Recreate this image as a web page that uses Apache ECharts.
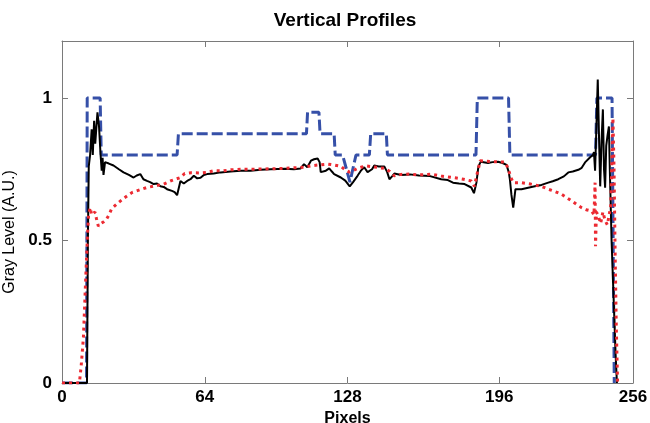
<!DOCTYPE html>
<html>
<head>
<meta charset="utf-8">
<script src="https://cdn.jsdelivr.net/npm/echarts@6/dist/echarts.min.js"></script>
<style>html,body{margin:0;padding:0;background:#fff}#c{width:650px;height:423px}</style>
</head>
<body>
<div id="c"></div>
<script>
const xTicks = [0, 64, 128, 196, 256];
const yTicks = [0, 0.5, 1];

const blueProfile = [[0,0],[11,0],[11.3,1],[17.1,1],[17.6,0.8],[51.6,0.8],[52.2,0.875],[109.6,0.875],[110.1,0.95],[115.2,0.95],[115.7,0.875],[122,0.875],[122.5,0.8],[125.8,0.8],[129.1,0.705],[131.8,0.8],[137.8,0.8],[138.4,0.875],[145.4,0.875],[145.9,0.8],[185.6,0.8],[186.2,1],[200.2,1],[200.8,0.8],[239.2,0.8],[239.8,1],[246.6,1],[247.6,0]];

const blackProfile = [[0,0],[11.2,0],[11.6,0.5],[12,0.76],[12.6,0.8],[13.3,0.89],[13.8,0.8],[14.4,0.92],[14.9,0.84],[15.9,0.95],[16.6,0.9],[17.3,0.8],[17.8,0.745],[18.2,0.79],[18.6,0.73],[19.3,0.775],[21,0.77],[23.1,0.763],[25.5,0.75],[27.6,0.739],[30,0.73],[32.1,0.721],[33.5,0.728],[35.1,0.733],[36.5,0.715],[38.1,0.709],[39.5,0.705],[41.1,0.698],[42.6,0.7],[44.1,0.69],[45.6,0.688],[47.1,0.68],[49.3,0.674],[50.5,0.67],[51.6,0.659],[53.1,0.709],[54.6,0.7],[56.1,0.709],[57.6,0.715],[59.1,0.727],[60.6,0.718],[62.1,0.72],[63.6,0.73],[65.1,0.733],[68,0.735],[71.1,0.739],[75.6,0.742],[80,0.745],[84.6,0.745],[89,0.748],[93.6,0.75],[100,0.752],[104,0.75],[107,0.753],[108.5,0.768],[110,0.757],[111.6,0.78],[113,0.785],[114.6,0.788],[115.5,0.775],[116,0.74],[116.8,0.733],[118.3,0.745],[119.8,0.753],[121,0.742],[122,0.733],[125,0.721],[127,0.71],[129,0.69],[130.5,0.705],[132.5,0.727],[134,0.745],[135.5,0.757],[137,0.74],[137.8,0.733],[139,0.75],[140,0.763],[142,0.76],[144.5,0.76],[145.8,0.74],[146.8,0.715],[148,0.725],[149,0.735],[152,0.73],[156,0.732],[160,0.728],[165,0.726],[170,0.715],[173,0.712],[175.3,0.703],[178,0.7],[180.5,0.698],[183.5,0.686],[184.7,0.666],[185.8,0.703],[186.7,0.76],[187.7,0.776],[191,0.772],[193,0.775],[195.5,0.776],[197.5,0.772],[199.3,0.765],[200.3,0.74],[200.8,0.715],[201.5,0.66],[202.3,0.615],[203.3,0.68],[206,0.68],[209,0.685],[212,0.69],[215,0.695],[218,0.703],[220,0.708],[222.5,0.715],[225,0.725],[227,0.739],[229,0.742],[231.5,0.748],[233,0.755],[234.5,0.774],[236.8,0.792],[238,0.8],[238.5,0.81],[239,0.745],[239.6,0.9],[240.2,1.065],[240.8,0.85],[241.3,0.69],[241.9,0.85],[242.5,0.96],[243,0.75],[243.5,0.685],[244,0.833],[244.6,0.87],[245.2,0.9],[245.6,0.75],[246.4,0.5],[247.3,0.3],[248.2,0.1],[248.8,0]];

const redProfile = [[0,0],[7.8,0],[8.6,0.06],[9.6,0.16],[10.6,0.36],[11.4,0.515],[11.9,0.586],[12.6,0.615],[13.3,0.59],[14,0.585],[14.8,0.6],[15.5,0.575],[16.3,0.55],[17.5,0.56],[18.6,0.565],[20,0.575],[20.8,0.586],[22.3,0.612],[25.3,0.633],[28,0.65],[31.3,0.668],[35,0.678],[38.1,0.686],[42,0.692],[45.6,0.698],[49,0.71],[53.1,0.721],[55,0.735],[58,0.738],[62,0.737],[65.1,0.739],[68,0.745],[72,0.744],[75.6,0.748],[80,0.75],[84.6,0.75],[90,0.751],[95,0.752],[99.5,0.753],[104,0.755],[108.5,0.757],[111.6,0.762],[115,0.765],[119,0.768],[122,0.765],[125,0.76],[127,0.748],[128.8,0.74],[130.5,0.745],[132.5,0.753],[134.5,0.758],[136.3,0.762],[140,0.758],[144.5,0.753],[147,0.742],[149,0.727],[152,0.732],[156,0.733],[160,0.73],[165.6,0.733],[170,0.726],[176,0.72],[180,0.715],[183.5,0.709],[184.9,0.69],[186,0.73],[187.5,0.78],[190,0.778],[195,0.776],[198.6,0.775],[199.6,0.76],[200.3,0.745],[201.3,0.72],[202.3,0.703],[206,0.703],[210,0.698],[215,0.69],[218,0.68],[221,0.672],[224,0.662],[226,0.652],[228.5,0.639],[231,0.625],[233,0.615],[235,0.608],[237.5,0.603],[238.5,0.59],[239,0.703],[239.2,0.48],[239.6,0.6],[240.5,0.585],[241.5,0.56],[242.5,0.6],[243.5,0.57],[244.5,0.555],[245.3,0.562],[246,0.62],[246.6,0.8],[247,0.93],[247.5,0.75],[248,0.45],[248.5,0.2],[249.1,0]];

const FONT = 'Liberation Sans, Arial, Helvetica, sans-serif';
const frameColor = '#7a7a7a';

const chart = echarts.init(document.getElementById('c'), null, {renderer: 'canvas'});
chart.setOption({
  animation: false,
  backgroundColor: '#ffffff',
  title: {
    text: 'Vertical Profiles',
    left: 340, top: 6, textAlign: 'center',
    textStyle: {fontFamily: FONT, fontSize: 19, fontWeight: 'bold', color: '#000'}
  },
  grid: {left: 62, right: 17, top: 41, bottom: 40, containLabel: false, outerBoundsMode: 'none'},
  xAxis: [{
    type: 'value', min: 0, max: 256, position: 'bottom',
    name: 'Pixels', nameLocation: 'middle', nameGap: 21,
    nameTextStyle: {fontFamily: FONT, fontSize: 16, fontWeight: 'bold', color: '#000'},
    axisLine: {show: true, onZero: false, lineStyle: {color: frameColor, width: 1}},
    axisTick: {show: true, inside: true, length: 6, customValues: xTicks, lineStyle: {color: frameColor}},
    axisLabel: {customValues: xTicks, margin: 6, fontFamily: FONT, fontSize: 17, fontWeight: 'bold', color: '#000'},
    splitLine: {show: false}
  }, {
    type: 'value', min: 0, max: 256, position: 'top',
    axisLine: {show: true, onZero: false, lineStyle: {color: frameColor, width: 1}},
    axisTick: {show: true, inside: true, length: 6, customValues: xTicks, lineStyle: {color: frameColor}},
    axisLabel: {show: false},
    splitLine: {show: false}
  }],
  yAxis: [{
    type: 'value', min: 0, max: 1.2, position: 'left',
    name: 'Gray Level (A.U.)', nameLocation: 'middle', nameGap: 37,
    nameTextStyle: {fontFamily: FONT, fontSize: 16, color: '#000', padding: [0, 40, 0, 0]},
    axisLine: {show: true, onZero: false, lineStyle: {color: frameColor, width: 1}},
    axisTick: {show: true, inside: true, length: 6, customValues: yTicks, lineStyle: {color: frameColor}},
    axisLabel: {customValues: yTicks, margin: 10, fontFamily: FONT, fontSize: 17, fontWeight: 'bold', color: '#000'},
    splitLine: {show: false}
  }, {
    type: 'value', min: 0, max: 1.2, position: 'right',
    axisLine: {show: true, onZero: false, lineStyle: {color: frameColor, width: 1}},
    axisTick: {show: true, inside: true, length: 6, customValues: yTicks, lineStyle: {color: frameColor}},
    axisLabel: {show: false},
    splitLine: {show: false}
  }],
  series: [{
    name: 'blue', type: 'line', data: blueProfile, showSymbol: false, symbol: 'none',
    lineStyle: {color: '#3650a8', width: 3, type: [11, 4]}, z: 2
  }, {
    name: 'black', type: 'line', data: blackProfile, showSymbol: false, symbol: 'none',
    lineStyle: {color: '#000000', width: 2}, z: 3
  }, {
    name: 'red', type: 'line', data: redProfile, showSymbol: false, symbol: 'none',
    lineStyle: {color: '#ec2a32', width: 3, type: [3, 4]}, z: 4
  }]
});
</script>
</body>
</html>
